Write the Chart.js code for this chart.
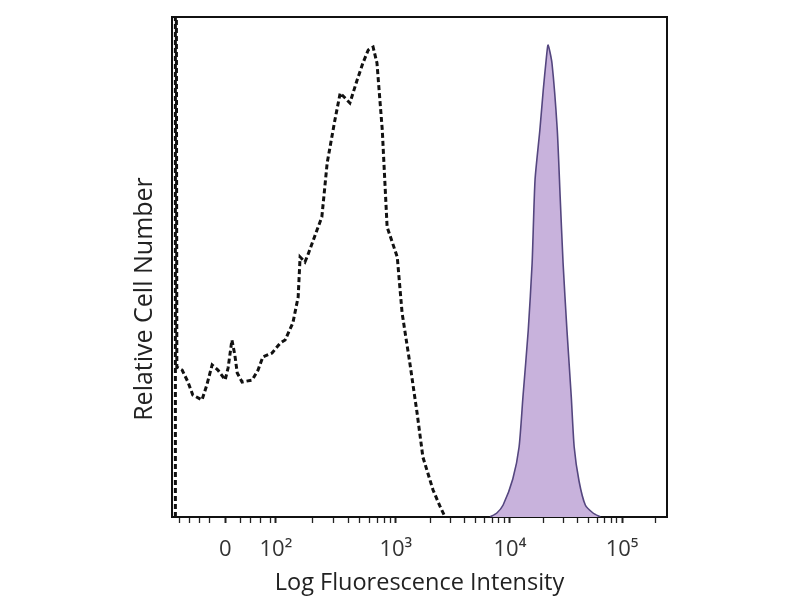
<!DOCTYPE html>
<html>
<head>
<meta charset="UTF-8">
<title>Log Fluorescence Intensity</title>
<script src="https://cdn.jsdelivr.net/npm/chart.js"></script>
<style>
  body { margin: 0; background: #fff; }
  #wrap { width: 800px; height: 600px; }
</style>
</head>
<body>
<div id="wrap"><canvas id="histo"></canvas></div>
<script>
// x = display channel (0..1024, biexponential), y = relative cell number (% of max)
var controlX = [7, 7, 9, 10, 21, 33, 43, 62, 72, 83, 95, 110, 116, 124, 130, 135, 145, 166, 178, 188,
                207, 224, 234, 250, 261, 265, 275, 281, 300, 310, 321, 337, 348, 368, 383, 395, 406, 416,
                424, 435, 445, 466, 476, 492, 507, 519, 540, 555, 565];
var controlY = [0, 104, 104, 30, 29.4, 27, 24.4, 23.4, 26.4, 30.4, 29.4, 27.4, 29.8, 35.4, 32.4, 28.8, 27, 27.4, 29.4, 32,
                32.8, 34.8, 35.4, 38.8, 44, 52, 51, 52.4, 57.4, 60, 70.8, 79.4, 84.8, 82.8, 87.4, 90.8, 93.4, 94,
                90.8, 77.4, 58, 52, 40.8, 30.8, 20.8, 12, 5.4, 2, 0];

var stainedX = [658, 672, 685, 705, 718, 726, 737, 745, 751, 761, 768, 774, 778, 786, 797, 803, 809, 817, 826, 832, 842, 855, 871, 886];
var stainedY = [0, 0.8, 2.4, 7.6, 14, 24, 37.4, 50.8, 67.4, 77.4, 85.4, 91.4, 94.4, 90.8, 77.4, 64, 50.8, 37.4, 24, 14, 7.2, 2.4, 0.8, 0];

// channel where each labelled decade sits
var tickChannels = [110, 215, 463, 699, 931];
var tickLabels = ['0', '10\u00b2', '10\u00b3', '10\u2074', '10\u2075'];

function toPoints(xs, ys) {
    return xs.map(function (x, i) { return {x: x, y: ys[i]}; });
}

// minor ticks: log steps inside each decade, linear steps round zero
function allTicks() {
    var list = tickChannels.slice();
    var zero = tickChannels[0], step = (tickChannels[1] - tickChannels[0]) / 100;
    [30, 50, 70, 90].forEach(function (v) {
        list.push(zero + v * step);
        list.push(zero - v * step);
    });
    for (var d = 1; d < tickChannels.length; d++) {
        var lo = tickChannels[d];
        var span = d < tickChannels.length - 1 ? tickChannels[d + 1] - lo : tickChannels[d] - tickChannels[d - 1];
        for (var k = 2; k <= 9; k++) {
            list.push(lo + span * Math.log10(k));
        }
    }
    return list.filter(function (v) { return v >= 0 && v <= 1024; }).sort(function (a, b) { return a - b; });
}

var yTitle = {
    id: 'yTitle',
    afterDraw: function (chart) {
        var ctx = chart.ctx, area = chart.chartArea;
        ctx.save();
        ctx.translate(area.left - 27, (area.top + area.bottom) / 2 + 32);
        ctx.rotate(-Math.PI / 2);
        ctx.font = '25px "Open Sans"';
        ctx.fillStyle = '#222';
        ctx.textAlign = 'center';
        ctx.textBaseline = 'middle';
        ctx.fillText('Relative Cell Number', 0, 0);
        ctx.restore();
    }
};

var ctx = document.getElementById('histo');
var myChart = new Chart(ctx, {
    type: 'line',
    data: {
        datasets: [{
            label: 'Isotype control',
            data: toPoints(controlX, controlY),
            borderColor: '#111',
            borderWidth: 3,
            borderDash: [5, 3],
            pointRadius: 0,
            tension: 0,
            fill: false
        }, {
            label: 'Stained',
            data: toPoints(stainedX, stainedY),
            borderColor: '#54467f',
            backgroundColor: '#c8b2dc',
            borderWidth: 1.6,
            pointRadius: 0,
            tension: 0.2,
            fill: 'origin'
        }]
    },
    options: {
        responsive: true,
        maintainAspectRatio: false,
        animation: false,
        layout: {padding: {top: 17, right: 133, left: 128, bottom: 0}},
        plugins: {legend: {display: false}, tooltip: {enabled: false}},
        scales: {
            x: {
                type: 'linear',
                position: 'bottom',
                min: 0,
                max: 1024,
                afterBuildTicks: function (scale) {
                    scale.ticks = allTicks().map(function (v) { return {value: v}; });
                },
                afterFit: function (scale) { scale.height = 83; },
                ticks: {
                    autoSkip: false,
                    maxRotation: 0,
                    padding: 14,
                    color: '#333',
                    font: {family: 'Open Sans', size: 22},
                    callback: function (value) {
                        var i = tickChannels.indexOf(value);
                        return i < 0 ? '' : tickLabels[i];
                    }
                },
                grid: {
                    drawOnChartArea: false,
                    tickLength: 6,
                    tickColor: '#222',
                    tickWidth: function (c) {
                        return c.tick && tickChannels.indexOf(c.tick.value) >= 0 ? 2 : 1.3;
                    }
                },
                border: {color: '#111', width: 2},
                title: {
                    display: true,
                    text: 'Log Fluorescence Intensity',
                    color: '#222',
                    font: {family: 'Open Sans', size: 23.5},
                    padding: {top: 4, bottom: 3}
                }
            },
            y: {
                min: 0,
                max: 100,
                afterFit: function (scale) { scale.width = 44; },
                ticks: {display: false},
                grid: {display: false},
                border: {color: '#111', width: 2}
            },
            x2: {
                type: 'linear',
                position: 'top',
                min: 0,
                max: 1024,
                afterFit: function (scale) { scale.height = 0; },
                ticks: {display: false},
                grid: {display: false},
                border: {color: '#111', width: 2}
            },
            y2: {
                position: 'right',
                min: 0,
                max: 100,
                afterFit: function (scale) { scale.width = 0; },
                ticks: {display: false},
                grid: {display: false},
                border: {color: '#111', width: 2}
            }
        }
    },
    plugins: [yTitle]
});
</script>
</body>
</html>
